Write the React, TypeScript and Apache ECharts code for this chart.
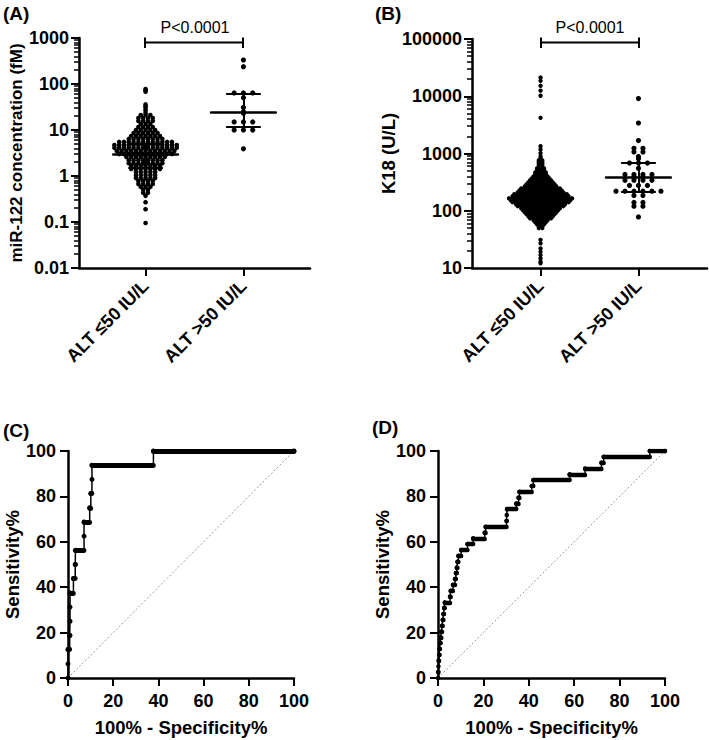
import React, { useEffect, useRef } from 'react';
import * as echarts from 'echarts';

const FONT = '"Liberation Sans", Arial, Helvetica, sans-serif';

// ---------- categories / ticks ----------
const groupLabels = ['ALT \u226450 IU/L', 'ALT >50 IU/L'];
const miR122Range = [0.01, 1000];
const k18Range = [10, 100000];

// ---------- Panel A: miR-122 concentration (fM); swarm rows [value, dots in row] ----------
const miR122LowRows: [number, number][] = [
  [78, 1], [73, 1], [68, 1], [36, 1], [33, 1], [30, 1], [27, 1], [23.5, 1],
  [21.2, 3], [18.2, 4], [15.7, 4], [13.5, 3], [11.6, 4], [10, 5], [8.6, 6], [7.4, 7],
  [6.4, 8], [5.5, 12], [4.7, 14], [4.1, 14], [3.5, 13], [3.0, 12],
  [2.6, 9], [2.2, 8], [1.9, 8], [1.65, 7], [1.42, 7], [1.22, 5], [1.05, 5], [0.9, 5],
  [0.78, 4], [0.67, 4], [0.58, 3], [0.5, 2], [0.43, 2],
  [0.37, 1], [0.27, 1], [0.19, 1], [0.095, 1],
];
const miR122HighRows: [number, number][] = [
  [331, 1], [238, 1], [64, 3], [50, 1], [31, 1], [25, 1], [23, 1], [15, 3], [10, 3], [3.9, 1],
];
const miR122Median = [3.0, 24];
const miR122Q1 = [1.5, 11.5];
const miR122Q3 = [5.0, 62];

// ---------- Panel B: K18 (U/L) ----------
const k18LowRows: [number, number][] = [
  [21200, 1], [18600, 1], [15200, 1], [12500, 1], [10200, 1], [4200, 1],
  [1340, 1], [1175, 1], [1010, 1],
  [887, 1], [818, 1], [755, 2], [697, 2], [644, 2], [594, 2], [548, 3], [506, 3],
  [467, 4], [431, 4], [398, 5], [367, 6], [339, 7], [313, 8], [289, 9], [267, 10],
  [246, 12], [227, 13], [210, 14], [194, 16], [179, 17], [165, 19], [152, 18], [141, 17],
  [130, 15], [120, 14], [110, 12], [102, 11], [94, 10], [87, 9], [80, 8], [74, 7],
  [68, 5], [63, 4], [58, 3], [54, 2], [50, 2],
  [31, 1], [27, 1], [22, 1], [19.2, 1], [16.8, 1], [14.7, 1], [12.9, 1], [12.1, 1],
];
const k18HighRows: [number, number][] = [
  [9100, 1], [3400, 1], [1680, 1], [1235, 2], [1060, 2], [890, 1], [810, 1], [680, 3],
  [550, 1], [430, 4], [387, 2], [340, 4], [277, 3], [220, 6], [185, 2], [140, 2], [120, 2], [78, 1],
];
const k18Median = [165, 387];
const k18Q1 = [115, 212];
const k18Q3 = [250, 680];

// ---------- Panel C: ROC miR-122 ----------
const rocCFpr = [0, 0, 0, 0.74, 0.9, 0.9, 0.9, 2.4, 3.2, 3.3, 7.1, 7.1, 9.6, 10.1, 10.6, 10.6, 37.8, 100];
const rocCTpr = [0, 6.25, 12.5, 18.75, 25, 31.25, 37.5, 43.75, 50, 56.25, 62.5, 68.75, 75, 81.25, 87.5, 93.75, 100, 100];

// ---------- Panel D: ROC K18 ----------
const rocDFpr = [0, 0.1, 0.2, 0.3, 0.5, 0.7, 0.9, 1.2, 1.5, 1.8, 2.1, 2.4, 2.7, 3.0, 5.3, 5.6, 6.6, 7.5, 7.9, 8.3,
  8.6, 9.0, 10.2, 13, 15.5, 20.6, 21, 30.2, 30.3, 30.4, 34.5, 35.5, 35.9, 41.3, 42, 58, 64.8, 72, 73, 93.3, 100];
const rocDTpr = [0, 2.56, 5.13, 7.69, 10.26, 12.82, 15.38, 17.95, 20.51, 23.08, 25.64, 28.21, 30.77, 33.33, 35.9,
  38.46, 41.03, 43.59, 46.15, 48.72, 51.28, 53.85, 56.41, 58.97, 61.54, 64.1, 66.67, 69.23, 71.79, 74.36, 76.92,
  79.49, 82.05, 84.62, 87.18, 89.74, 92.31, 94.87, 97.44, 100, 100];

// ---------- layout helpers ----------
const PX_PER_GROUP = 98;
const X_MIN_A = -0.68;
const X_MIN_B = -0.7;

function swarm(rows: [number, number][], center: number, spacingPx: number) {
  const step = spacingPx / PX_PER_GROUP;
  const out: number[][] = [];
  for (const [v, n] of rows) {
    for (let i = 0; i < n; i++) out.push([center + (i - (n - 1) / 2) * step, v]);
  }
  return out;
}

function summaryLines(med: number[], q1: number[], q3: number[]) {
  const d: any[] = [];
  med.forEach((m, i) => {
    d.push({ coords: [[i - 0.33, m], [i + 0.33, m]], lineStyle: { width: 2.6 } });
    d.push({ coords: [[i, q1[i]], [i, q3[i]]] });
    d.push({ coords: [[i - 0.17, q1[i]], [i + 0.17, q1[i]]] });
    d.push({ coords: [[i - 0.17, q3[i]], [i + 0.17, q3[i]]] });
  });
  return d;
}

function rocFlats(fpr: number[], tpr: number[]) {
  const d: any[] = [];
  for (let k = 0; k < fpr.length - 1; k++) {
    if (fpr[k + 1] > fpr[k]) d.push({ coords: [[fpr[k], tpr[k]], [fpr[k + 1], tpr[k]]] });
  }
  return d;
}

// minor ticks (2..9 x 10^e) expressed as exponents, for an overlay linear axis in log10 units
function minorTickExponents(range: number[]) {
  const out: number[] = [];
  const e0 = Math.round(Math.log10(range[0]));
  const e1 = Math.round(Math.log10(range[1]));
  for (let e = e0; e < e1; e++) {
    for (let m = 2; m <= 9; m++) out.push(e + Math.log10(m));
  }
  return out;
}

const black = '#000';
const axisLine = { show: true, onZero: false, lineStyle: { color: black, width: 2.5 } };
const axisTick = { show: true, length: 8, lineStyle: { color: black, width: 2 } };
const tickLabel = { color: black, fontWeight: 'bold', fontSize: 18, fontFamily: FONT };
const nameStyle = { color: black, fontWeight: 'bold', fontSize: 18.5, fontFamily: FONT };

const txt = (text: string, x: number, y: number, font: string, align = 'left') => ({
  type: 'text',
  x,
  y,
  style: { text, font, fill: black, textAlign: align, align, textVerticalAlign: 'middle', verticalAlign: 'middle' },
});
const seg = (x1: number, y1: number, x2: number, y2: number, w = 2) => ({
  type: 'line',
  shape: { x1, y1, x2, y2 },
  style: { stroke: black, lineWidth: w },
});

function buildOption() {
  const panelFont = `bold 19px ${FONT}`;
  const pFont = `16px ${FONT}`;

  const xCat = (idx: number, min: number, max: number) => ({
    type: 'value',
    gridIndex: idx,
    min,
    max,
    axisLine,
    splitLine: { show: false },
    axisTick: { ...axisTick, customValues: [0, 1] },
    axisLabel: {
      ...tickLabel,
      customValues: [0, 1],
      rotate: 45,
      margin: 15,
      formatter: (v: number) => groupLabels[Math.round(v)] ?? '',
    },
  });
  const logY = (idx: number, range: number[], name: string, gap: number, nameSize: number) => ({
    type: 'log',
    logBase: 10,
    gridIndex: idx,
    position: 'left',
    min: range[0],
    max: range[1],
    axisLine,
    axisTick,
    splitLine: { show: false },
    minorTick: { show: false },
    axisLabel: {
      ...tickLabel,
      margin: 10,
      formatter: (v: number) => String(parseFloat(Number(v).toPrecision(4))),
    },
    name,
    nameLocation: 'middle',
    nameGap: gap,
    nameTextStyle: { ...nameStyle, fontSize: nameSize },
  });
  // overlay axis that only draws the minor ticks of a log axis
  const minorY = (idx: number, range: number[]) => ({
    type: 'value',
    gridIndex: idx,
    position: 'left',
    offset: 0,
    min: Math.round(Math.log10(range[0])),
    max: Math.round(Math.log10(range[1])),
    axisLine: { show: false, onZero: false },
    axisTick: {
      show: true,
      length: 5,
      customValues: minorTickExponents(range),
      lineStyle: { color: black, width: 1.5 },
    },
    axisLabel: { show: false },
    splitLine: { show: false },
  });
  const rocX = (idx: number) => ({
    type: 'value',
    gridIndex: idx,
    min: 0,
    max: 100,
    interval: 20,
    axisLine,
    axisTick,
    splitLine: { show: false },
    axisLabel: { ...tickLabel, margin: 14 },
    name: '100% - Specificity%',
    nameLocation: 'middle',
    nameGap: 40,
    nameTextStyle: nameStyle,
  });
  const rocY = (idx: number) => ({
    type: 'value',
    gridIndex: idx,
    position: 'left',
    min: 0,
    max: 100,
    interval: 20,
    axisLine,
    axisTick,
    splitLine: { show: false },
    axisLabel: { ...tickLabel, margin: 12 },
    name: 'Sensitivity%',
    nameLocation: 'middle',
    nameGap: 46,
    nameTextStyle: nameStyle,
  });

  const scatter = (xi: number, yi: number, data: number[][], size: number) => ({
    type: 'scatter',
    xAxisIndex: xi,
    yAxisIndex: yi,
    data,
    symbol: 'circle',
    symbolSize: size,
    itemStyle: { color: black, opacity: 1 },
    z: 3,
  });
  const lines = (idx: number, data: any[], width: number, z = 4) => ({
    type: 'lines',
    coordinateSystem: 'cartesian2d',
    xAxisIndex: idx,
    yAxisIndex: idx,
    data,
    symbol: 'none',
    lineStyle: { color: black, width, opacity: 1, cap: 'round' },
    z,
  });
  const diag = (idx: number) => ({
    type: 'line',
    xAxisIndex: idx,
    yAxisIndex: idx,
    data: [[0, 0], [100, 100]],
    symbol: 'none',
    lineStyle: { color: '#9a9a9a', width: 1, type: [2, 2] },
    z: 1,
  });
  const rocCurve = (idx: number, fpr: number[], tpr: number[], size: number) => ({
    type: 'line',
    xAxisIndex: idx,
    yAxisIndex: idx,
    data: fpr.map((f, i) => [f, tpr[i]]),
    step: 'end',
    symbol: 'circle',
    symbolSize: size,
    showSymbol: true,
    showAllSymbol: true,
    lineStyle: { color: black, width: 1.5 },
    itemStyle: { color: black },
    z: 3,
  });

  return {
    animation: false,
    backgroundColor: '#fff',
    textStyle: { fontFamily: FONT },
    grid: [
      { left: 79, top: 38, width: 231, height: 230, containLabel: false, outerBoundsMode: 'none' },
      { left: 472, top: 39, width: 235, height: 229, containLabel: false, outerBoundsMode: 'none' },
      { left: 68, top: 451, width: 226, height: 227, containLabel: false, outerBoundsMode: 'none' },
      { left: 438, top: 451, width: 227, height: 227, containLabel: false, outerBoundsMode: 'none' },
    ],
    xAxis: [xCat(0, X_MIN_A, 1.68), xCat(1, X_MIN_B, 1.7), rocX(2), rocX(3)],
    yAxis: [
      logY(0, miR122Range, 'miR-122 concentration (fM)', 52, 17),
      logY(1, k18Range, 'K18 (U/L)', 74, 18.5),
      rocY(2),
      rocY(3),
      minorY(0, miR122Range),
      minorY(1, k18Range),
    ],
    series: [
      scatter(0, 0, swarm(miR122LowRows, 0, 4.8), 4.6),
      scatter(0, 0, swarm(miR122HighRows, 1, 9.3), 5.2),
      lines(0, summaryLines(miR122Median, miR122Q1, miR122Q3), 2),
      scatter(1, 1, swarm(k18LowRows, 0, 3.5), 4.4),
      scatter(1, 1, swarm(k18HighRows, 1, 9.0), 5.2),
      lines(1, summaryLines(k18Median, k18Q1, k18Q3), 2),
      diag(2),
      lines(2, rocFlats(rocCFpr, rocCTpr), 4.8, 2),
      rocCurve(2, rocCFpr, rocCTpr, 5),
      diag(3),
      lines(3, rocFlats(rocDFpr, rocDTpr), 4.4, 2),
      rocCurve(3, rocDFpr, rocDTpr, 4.5),
      // empty series so the minor-tick overlay axes are in use
      scatter(0, 4, [], 0),
      scatter(1, 5, [], 0),
    ],
    graphic: [
      txt('(A)', 3, 13, panelFont),
      txt('(B)', 375, 13, panelFont),
      txt('(C)', 3, 430, panelFont),
      txt('(D)', 372, 427, panelFont),
      txt('P<0.0001', 195, 27, pFont, 'center'),
      txt('P<0.0001', 590, 27, pFont, 'center'),
      seg(145, 42.5, 243, 42.5),
      seg(145, 37.5, 145, 48),
      seg(243, 37.5, 243, 48),
      seg(541, 42.5, 639, 42.5),
      seg(541, 37.5, 541, 48),
      seg(639, 37.5, 639, 48),
    ],
  };
}

export default function App() {
  const ref = useRef<HTMLDivElement>(null);
  useEffect(() => {
    if (!ref.current) return;
    const chart = echarts.init(ref.current, null, { renderer: 'svg' });
    chart.setOption(buildOption() as any);
    return () => chart.dispose();
  }, []);
  return (
    <div
      ref={ref}
      style={{ position: 'absolute', left: 0, top: 0, width: 709, height: 740, background: '#fff' }}
    />
  );
}
